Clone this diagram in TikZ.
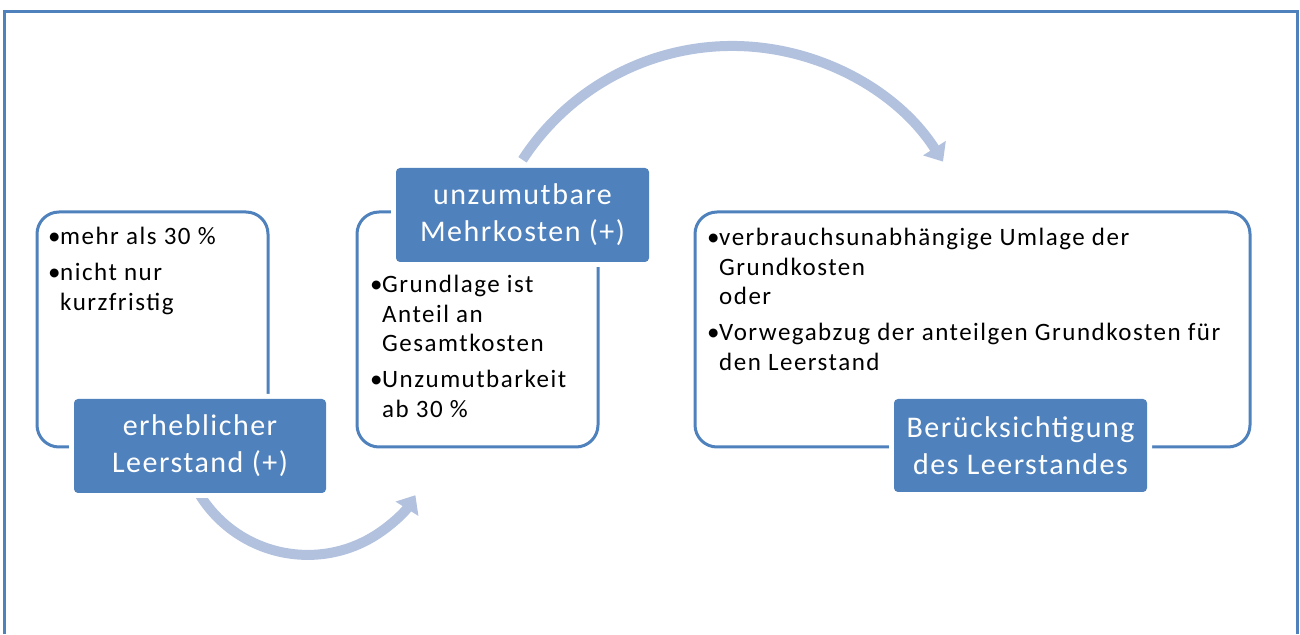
\documentclass[tikz,border=0pt]{standalone}
\usepackage{fontspec}
\setmainfont{Carlito}
\newfontfamily\bodyfont{Carlito}[LetterSpace=6]
\newfontfamily\titlefont{Carlito}[LetterSpace=5]
\usetikzlibrary{arrows.meta}
\definecolor{dblue}{RGB}{79,129,189}
\definecolor{lblue}{RGB}{178,194,222}
\newcommand\bitem[1]{\par\noindent\hangindent=12pt\hangafter=1\makebox[12pt][l]{•}#1}
\newcommand\bodytext[1]{\begin{minipage}[t]{560pt}\bodyfont\fontsize{25}{29.5}\selectfont\parskip=6.5pt #1\end{minipage}}
\begin{document}
\begin{tikzpicture}[x=1pt,y=1pt,
  lightbox/.style={draw=dblue, line width=3pt, fill=white, rounded corners=22pt, inner sep=0pt},
  darkbox/.style={fill=dblue, rounded corners=4pt, inner sep=0pt,
    preaction={draw=white, line width=10pt, rounded corners=4pt},
    text=white, font=\titlefont\fontsize{30}{37}\selectfont, align=center},
  flow/.style={draw=lblue, line width=10pt, -{Triangle[width=26pt,length=16pt]}},
  body/.style={anchor=base west, inner sep=0pt}
]
\useasboundingbox (0,0) rectangle (1300,634);
% outer frame
\draw[dblue, line width=3pt] (4,0) -- (4,622) -- (1297,622) -- (1297,0);

% connectors (drawn under boxes)
\node[inner sep=0pt, minimum width=252pt, minimum height=94pt] (d1pos) at (200,188) {};
\node[inner sep=0pt, minimum width=253pt, minimum height=94pt] (d2pos) at (522.5,419) {};
\draw[flow] ([yshift=-2pt]d1pos.south) arc[start angle=212, end angle=328, radius=127];
\draw[flow] ([yshift=8pt]d2pos.north) arc[start angle=147, end angle=32.5, radius=250];

% light boxes
\node[lightbox, minimum width=231pt, minimum height=235pt] (b1) at (152.5,304.5) {};
\node[lightbox, minimum width=241pt, minimum height=235pt] (b2) at (477.5,304.5) {};
\node[lightbox, minimum width=555pt, minimum height=235pt] (b3) at (972.5,304.5) {};

% body texts
\node[body] (t1) at (48,389) {\bodytext{%
  \bitem{mehr als 30 \%}%
  \bitem{nicht nur\newline kurzfristig}}};
\node[body] (t2) at (370,341) {\bodytext{%
  \bitem{Grundlage ist\newline Anteil an\newline Gesamtkosten}%
  \bitem{Unzumutbarkeit\newline ab 30 \%}}};
\node[body] (t3) at (707,388) {\bodytext{%
  \bitem{verbrauchsunabhängige Umlage der\newline Grundkosten\newline oder}%
  \bitem{Vorwegabzug der anteilgen Grundkosten für\newline den Leerstand}}};

% dark title boxes
\node[darkbox, minimum width=252pt, minimum height=94pt] (d1) at (200,188) {erheblicher\\Leerstand (+)};
\node[darkbox, minimum width=253pt, minimum height=94pt] (d2) at (522.5,419) {unzumutbare\\Mehrkosten (+)};
\node[darkbox, minimum width=253pt, minimum height=93pt] (d3) at (1020.5,188.5) {Berücksichtigung\\des Leerstandes};
\end{tikzpicture}
\end{document}
